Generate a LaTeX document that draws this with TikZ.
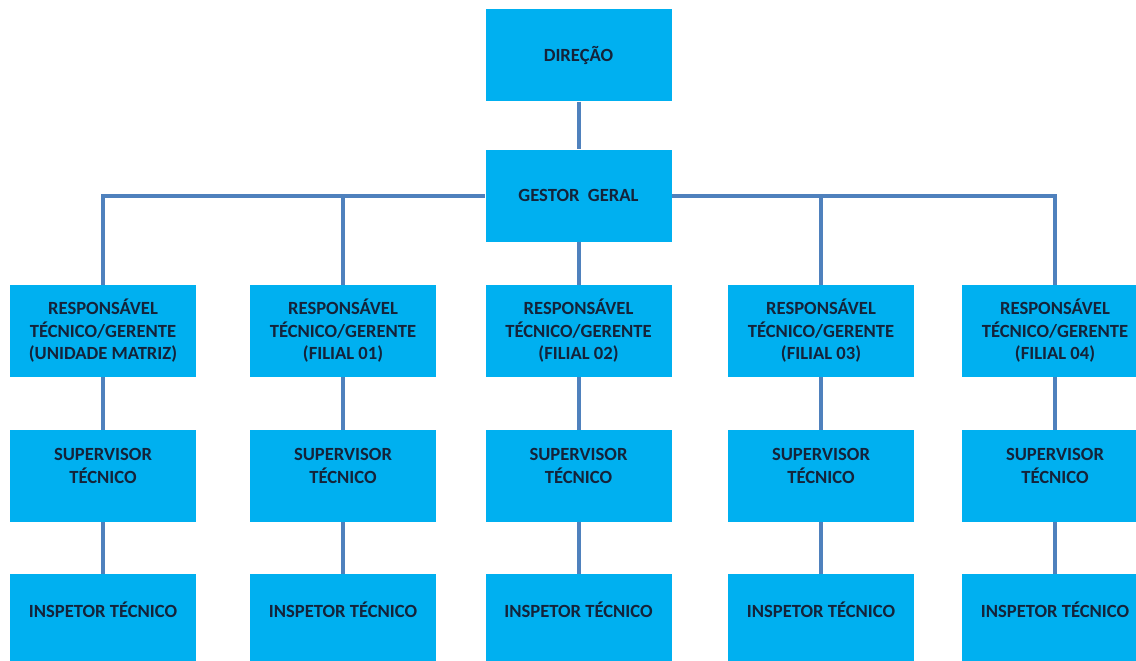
\documentclass[tikz,border=0pt]{standalone}
\usepackage{fontspec}
\setmainfont{Carlito}
\usetikzlibrary{backgrounds}
\definecolor{boxfill}{HTML}{00B0F0}
\definecolor{linecol}{HTML}{4F81BD}
\definecolor{txtcol}{HTML}{14233A}
\begin{document}
\begin{tikzpicture}[x=1pt,y=-1pt,
  orgbox/.style={fill=boxfill,draw=none,minimum width=186pt,minimum height=92pt,inner sep=0pt,
    text=txtcol,align=center,font=\fontsize{18.6}{22.5}\selectfont\bfseries},
  uptext/.style={label={[text=txtcol,align=center,font=\fontsize{18.6}{22.5}\selectfont\bfseries,yshift=10pt]center:#1}},
  conn/.style={draw=linecol,line width=4pt}]
\useasboundingbox (0,0) rectangle (1136,661);
\node[orgbox] (dir) at (578.5,55.5) {DIREÇÃO};
\node[orgbox] (gest) at (578.5,195.5) {GESTOR\ \ GERAL};
\foreach \i/\x/\t in {1/103/(UNIDADE MATRIZ),2/343/(FILIAL 01),3/578.5/(FILIAL 02),4/821/(FILIAL 03),5/1055/(FILIAL 04)}{
  \node[orgbox] (r\i) at (\x,331) {RESPONSÁVEL\\TÉCNICO/GERENTE\\\t};
  \node[orgbox,uptext={SUPERVISOR\\TÉCNICO}] (s\i) at (\x,476) {};
  \node[orgbox,uptext={INSPETOR TÉCNICO}] (p\i) at (\x,620) {};
}
\begin{scope}[on background layer]
\draw[conn] (dir.south) -- (gest.north);
\draw[conn] (r1.north) |- (gest.west);
\draw[conn] (r5.north) |- (gest.east);
\draw[conn] (r2.north) -- (r2.north |- gest.west);
\draw[conn] (r4.north) -- (r4.north |- gest.east);
\draw[conn] (gest.south) -- (r3.north);
\foreach \i in {1,...,5}{
  \draw[conn] (r\i.south) -- (s\i.north);
  \draw[conn] (s\i.south) -- (p\i.north);
}
\end{scope}
\end{tikzpicture}
\end{document}
